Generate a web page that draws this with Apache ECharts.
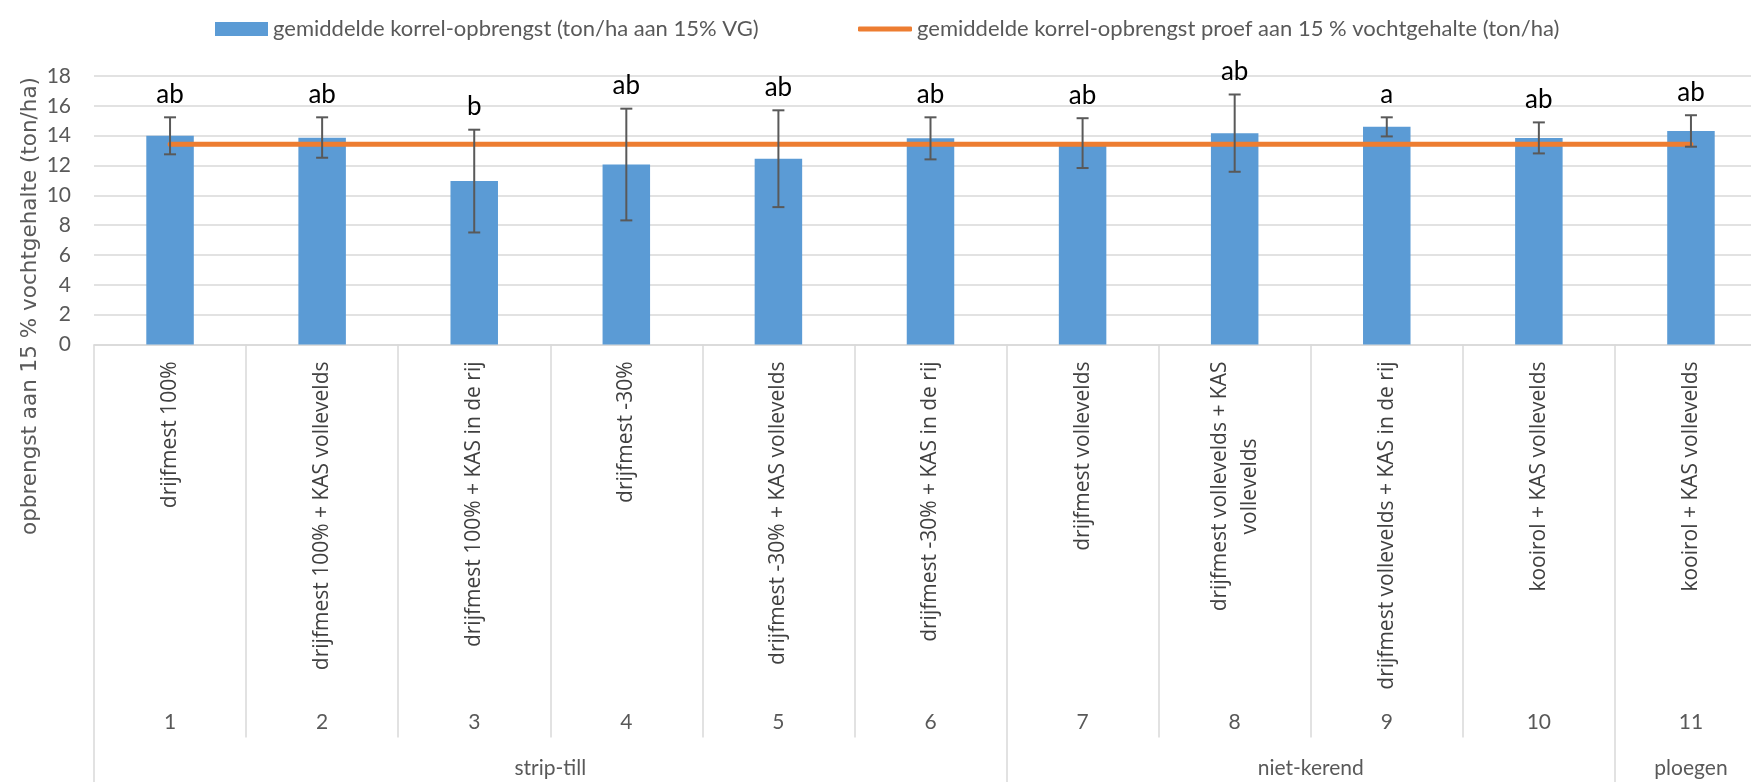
<!DOCTYPE html>
<html>
<head>
<meta charset="utf-8">
<script src="https://cdn.jsdelivr.net/npm/echarts@6/dist/echarts.min.js"></script>
<style>
  html, body { margin: 0; padding: 0; background: #ffffff; }
  #chart { width: 1751px; height: 782px; }
</style>
</head>
<body>
<div id="chart"></div>
<script>
// Treatments (x categories); "\n" marks where a long label wraps
const treatments = [
  'drijfmest 100%',
  'drijfmest 100% + KAS vollevelds',
  'drijfmest 100% + KAS in de rij',
  'drijfmest -30%',
  'drijfmest -30% + KAS vollevelds',
  'drijfmest -30% + KAS in de rij',
  'drijfmest vollevelds',
  'drijfmest vollevelds + KAS\nvollevelds',
  'drijfmest vollevelds + KAS in de rij',
  'kooirol + KAS vollevelds',
  'kooirol + KAS vollevelds'
];
const objectNumbers = ['1', '2', '3', '4', '5', '6', '7', '8', '9', '10', '11'];

// Tillage groups and how many treatments each one spans
const groupNames = ['strip-till', 'niet-kerend', 'ploegen'];
const groupSizes = [6, 4, 1];

// Mean grain yield per treatment (ton/ha at 15% moisture)
const yieldMean = [14.0, 13.86, 10.96, 12.06, 12.46, 13.82, 13.5, 14.16, 14.59, 13.85, 14.31];
// Error bar ends
const errorUpper = [15.23, 15.23, 14.40, 15.81, 15.70, 15.23, 15.17, 16.76, 15.23, 14.89, 15.37];
const errorLower = [12.75, 12.52, 7.51, 8.32, 9.21, 12.41, 11.83, 11.58, 13.95, 12.81, 13.26];
// Significance letters
const sigLetters = ['ab', 'ab', 'b', 'ab', 'ab', 'ab', 'ab', 'ab', 'a', 'ab', 'ab'];
// Trial mean yield, drawn across all treatments
const trialMean = [13.42, 13.42, 13.42, 13.42, 13.42, 13.42, 13.42, 13.42, 13.42, 13.42, 13.42];

// Y axis scale
const yMin = 0, yMax = 18, yStep = 2;

const SERIES_BAR = 'gemiddelde korrel-opbrengst (ton/ha aan 15% VG)';
const SERIES_LINE = 'gemiddelde korrel-opbrengst proef aan 15 % vochtgehalte (ton/ha)';

const HUMANIST = "Lato, 'Open Sans', sans-serif";
const LABEL_FONT = "'Open Sans', sans-serif";
const TITLE_FONT = "'DejaVu Sans', Verdana, sans-serif";
const GRID_COLOR = '#D9D9D9';
const TEXT_GRAY = '#595959';

// Group boundaries and centres in category units
const groupEdges = [0];
groupSizes.forEach(n => groupEdges.push(groupEdges[groupEdges.length - 1] + n));
const groupCentres = groupSizes.map((n, i) => groupEdges[i] + n / 2);

const errorData = yieldMean.map((v, i) => [i, errorLower[i], errorUpper[i]]);

const chart = echarts.init(document.getElementById('chart'), null, { renderer: 'canvas' });

const legendText = { fontFamily: HUMANIST, fontSize: 22, color: TEXT_GRAY, lineHeight: 26 };

chart.setOption({
  animation: false,
  backgroundColor: '#ffffff',
  legend: [
    {
      left: 210,
      top: 11,
      itemWidth: 53,
      itemHeight: 14,
      itemGap: 0,
      textStyle: legendText,
      data: [{ name: SERIES_BAR, icon: 'rect' }]
    },
    {
      left: 853,
      top: 11,
      itemWidth: 54,
      itemHeight: 5,
      itemGap: 0,
      textStyle: legendText,
      data: [{ name: SERIES_LINE, icon: 'roundRect' }]
    }
  ],
  // The plot runs slightly past the right edge of the canvas
  grid: {
    left: 94,
    top: 76,
    width: 1673,
    height: 268.5,
    containLabel: false,
    outerBoundsMode: 'none'
  },
  xAxis: [
    {
      type: 'category',
      data: treatments,
      position: 'bottom',
      axisLine: { show: true, lineStyle: { color: GRID_COLOR, width: 1.5 } },
      axisTick: { show: true, length: 393, lineStyle: { color: GRID_COLOR, width: 1.5 } },
      splitLine: { show: false },
      axisLabel: {
        interval: 0,
        rotate: 90,
        margin: 17,
        hideOverlap: false,
        formatter: v => v.split('\n').map(s => '{c|' + s + '}').join('\n'),
        rich: {
          c: { fontFamily: LABEL_FONT, fontSize: 21, color: '#404040', lineHeight: 30, align: 'center' }
        }
      }
    },
    {
      type: 'category',
      data: objectNumbers,
      position: 'bottom',
      axisLine: { show: false },
      axisTick: { show: false },
      axisLabel: {
        interval: 0,
        margin: 378,
        verticalAlign: 'middle',
        fontFamily: HUMANIST,
        fontSize: 21,
        color: TEXT_GRAY
      }
    },
    {
      type: 'value',
      min: 0,
      max: treatments.length,
      position: 'bottom',
      axisLine: { show: false },
      splitLine: { show: false },
      axisTick: {
        show: true,
        customValues: groupEdges,
        length: 440,
        lineStyle: { color: GRID_COLOR, width: 1.5 }
      },
      axisLabel: {
        customValues: groupCentres,
        formatter: v => groupNames[groupCentres.indexOf(v)] || '',
        margin: 424,
        verticalAlign: 'middle',
        fontFamily: HUMANIST,
        fontSize: 21,
        color: TEXT_GRAY
      }
    }
  ],
  yAxis: {
    type: 'value',
    min: yMin,
    max: yMax,
    interval: yStep,
    axisLine: { show: false },
    axisTick: { show: false },
    splitLine: { lineStyle: { color: GRID_COLOR, width: 1.5 } },
    axisLabel: { fontFamily: HUMANIST, fontSize: 21, color: TEXT_GRAY, margin: 23 }
  },
  graphic: [
    {
      type: 'text',
      x: 30,
      y: 306,
      rotation: Math.PI / 2,
      style: {
        text: 'opbrengst aan 15 % vochtgehalte (ton/ha)',
        fontFamily: TITLE_FONT,
        fontSize: 21.5,
        fill: TEXT_GRAY,
        align: 'center',
        verticalAlign: 'middle'
      }
    }
  ],
  series: [
    {
      name: SERIES_BAR,
      type: 'bar',
      xAxisIndex: 0,
      data: yieldMean,
      barWidth: 47.5,
      itemStyle: { color: '#5B9BD5' },
      z: 2
    },
    {
      name: SERIES_LINE,
      type: 'line',
      xAxisIndex: 0,
      data: trialMean,
      symbol: 'none',
      lineStyle: { color: '#ED7D31', width: 5, cap: 'round' },
      itemStyle: { color: '#ED7D31' },
      z: 3
    },
    {
      type: 'custom',
      xAxisIndex: 0,
      data: errorData,
      encode: { x: 0, y: [1, 2] },
      z: 4,
      renderItem: (params, api) => {
        const idx = api.value(0);
        const top = api.coord([idx, api.value(2)]);
        const bot = api.coord([idx, api.value(1)]);
        const x = top[0];
        const cap = 6;
        const stroke = { stroke: '#595959', lineWidth: 2 };
        return {
          type: 'group',
          children: [
            { type: 'line', shape: { x1: x, y1: top[1], x2: x, y2: bot[1] }, style: stroke },
            { type: 'line', shape: { x1: x - cap, y1: top[1], x2: x + cap, y2: top[1] }, style: stroke },
            { type: 'line', shape: { x1: x - cap, y1: bot[1], x2: x + cap, y2: bot[1] }, style: stroke },
            {
              type: 'text',
              x: x,
              y: top[1] - 10,
              style: {
                text: sigLetters[params.dataIndex],
                fontFamily: HUMANIST,
                fontSize: 26,
                fill: '#000000',
                align: 'center',
                verticalAlign: 'bottom'
              }
            }
          ]
        };
      }
    }
  ]
});
</script>
</body>
</html>
